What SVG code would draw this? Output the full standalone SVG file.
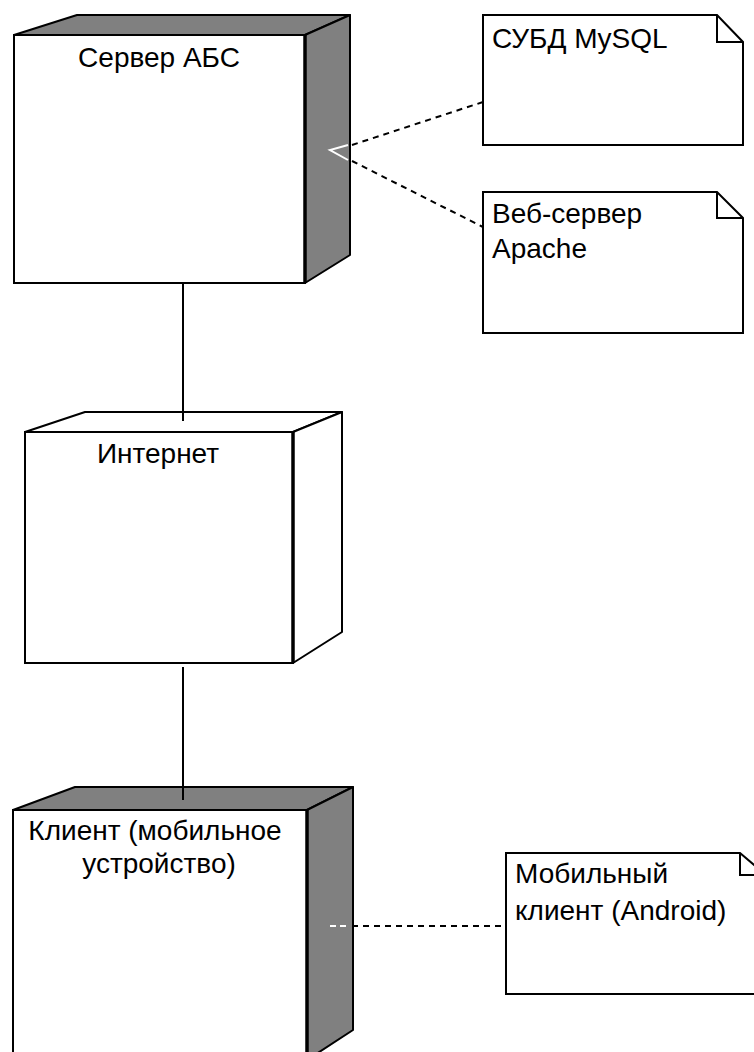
<svg xmlns="http://www.w3.org/2000/svg" width="754" height="1052" viewBox="0 0 754 1052">
<style>
.front{fill:#fff;stroke:#000;stroke-width:2}
.side{fill:#808080;stroke:#000;stroke-width:2;stroke-linejoin:round}
.sidew{fill:#fff;stroke:#000;stroke-width:2;stroke-linejoin:round}
.edge{stroke:#000;stroke-width:3.5}
.note{fill:#fff;stroke:#000;stroke-width:2}
.lbl{font-family:"Liberation Sans",Arial,sans-serif;font-size:28px;fill:#000}
.solid{stroke:#000;stroke-width:2;fill:none}
.dash{stroke:#000;stroke-width:2;stroke-dasharray:6,5;fill:none}
</style>
<rect width="754" height="1052" fill="#fff"/>
<g id="server">
<polygon class="side" points="14,35 77,15 350,15 305,35"/>
<polygon class="side" points="305,35 350,15 350,255 305,283"/>
<rect class="front" x="14" y="35" width="291" height="248"/>
<line class="edge" x1="305" y1="35" x2="305" y2="283"/>
<text class="lbl" x="159" y="67" text-anchor="middle">Сервер АБС</text>
<polyline points="348,145 330,150 348,160" fill="none" stroke="#fff" stroke-width="2"/>
</g>
<g id="note-mysql">
<path class="note" d="M483,15 H717 L743,42 V145 H483 Z"/>
<path d="M717,15 V42 H743" fill="none" stroke="#000" stroke-width="2"/>
<text class="lbl" x="492" y="48">СУБД MySQL</text>
</g>
<g id="note-apache">
<path class="note" d="M483,192 H717 L743,218 V333 H483 Z"/>
<path d="M717,192 V218 H743" fill="none" stroke="#000" stroke-width="2"/>
<text class="lbl" x="492" y="223">Веб-сервер</text>
<text class="lbl" x="492" y="258">Apache</text>
</g>
<g id="internet">
<polygon class="sidew" points="25,432 85,412 342,412 293,432"/>
<polygon class="sidew" points="293,432 342,412 342,632 293,663"/>
<rect class="front" x="25" y="432" width="268" height="231"/>
<line class="edge" x1="293" y1="432" x2="293" y2="663"/>
<text class="lbl" x="158" y="463" text-anchor="middle">Интернет</text>
</g>
<g id="client">
<polygon class="side" points="13,810 75,787 353,787 307,810"/>
<polygon class="side" points="307,810 353,787 353,1030 307,1060"/>
<rect class="front" x="13" y="810" width="294" height="260"/>
<line class="edge" x1="307" y1="810" x2="307" y2="1060"/>
<text class="lbl" x="155" y="840" text-anchor="middle">Клиент (мобильное</text>
<text class="lbl" x="159" y="873" text-anchor="middle">устройство)</text>
<line x1="330" y1="926" x2="348" y2="926" stroke="#fff" stroke-width="2" stroke-dasharray="6,4"/>
</g>
<g id="note-android">
<path class="note" d="M506,853 H740 L766,875 V994 H506 Z"/>
<path d="M740,853 V875 H766" fill="none" stroke="#000" stroke-width="2"/>
<text class="lbl" x="515" y="883">Мобильный</text>
<text class="lbl" x="515" y="920">клиент (Android)</text>
</g>
<g id="connectors">
<line class="solid" x1="183" y1="283" x2="183" y2="421"/>
<line class="solid" x1="183" y1="667" x2="183" y2="800"/>
<line class="dash" x1="352" y1="145" x2="483" y2="102"/>
<line class="dash" x1="352" y1="161" x2="483" y2="227"/>
<line class="dash" x1="352" y1="926" x2="506" y2="926"/>
</g>
</svg>
